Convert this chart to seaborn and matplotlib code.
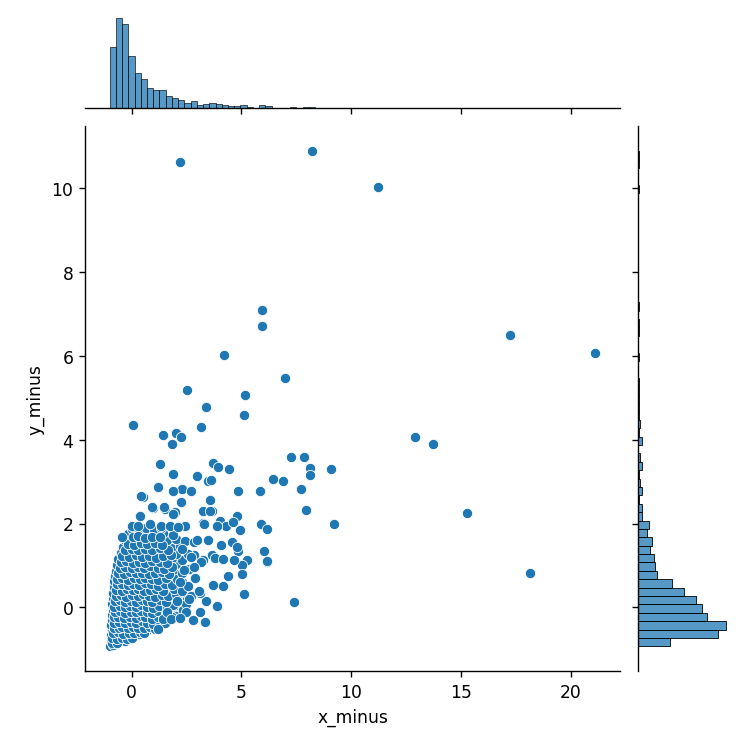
#joint plot
#x_minus vs y_minus with marginal histograms
import numpy as np
import pandas as pd
import seaborn as sns
import matplotlib
matplotlib.use("Agg")
import matplotlib.pyplot as plt

# scatter points (dense core row by row, then the spread-out points)
x_minus = [
    -1.00, -0.86,
    -0.95, -0.74, -0.55, -0.30,
    -0.96, -0.80, -0.60, -0.40, -0.15, 0.10, 0.35,
    -0.90, -0.70, -0.50, -0.30, -0.05, 0.20, 0.45, 0.70,
    -0.92, -0.75, -0.55, -0.35, -0.10, 0.15, 0.40, 0.65, 0.95, 1.20,
    -0.88, -0.65, -0.45, -0.20, 0.05, 0.30, 0.55, 0.80, 1.05, 1.35, 1.70,
    -0.90, -0.70, -0.50, -0.25, 0.00, 0.25, 0.50, 0.75, 1.00, 1.30, 1.60, 1.90,
    -0.85, -0.60, -0.40, -0.15, 0.10, 0.35, 0.60, 0.85, 1.15, 1.45, 1.75, 2.10,
    -0.88, -0.70, -0.45, -0.20, 0.05, 0.30, 0.55, 0.80, 1.10, 1.40, 1.70, 2.00, 2.30,
    -0.85, -0.60, -0.35, -0.10, 0.15, 0.40, 0.70, 0.95, 1.25, 1.55, 1.85, 2.20,
    -0.85, -0.65, -0.40, -0.15, 0.10, 0.40, 0.65, 0.90, 1.20, 1.50, 1.80, 2.10, 2.45,
    -0.80, -0.55, -0.30, -0.05, 0.20, 0.50, 0.75, 1.05, 1.35, 1.65, 2.00,
    -0.80, -0.60, -0.35, -0.10, 0.15, 0.45, 0.70, 1.00, 1.30, 1.60, 1.95, 2.30,
    -0.75, -0.50, -0.25, 0.00, 0.30, 0.55, 0.85, 1.15, 1.45, 1.80, 2.15,
    -0.72, -0.45, -0.20, 0.10, 0.35, 0.65, 0.95, 1.25, 1.55, 1.90, 2.60,
    -0.65, -0.40, -0.15, 0.15, 0.45, 0.75, 1.05, 1.40, 1.70, 2.00,
    -0.60, -0.35, -0.05, 0.25, 0.55, 0.85, 1.20, 1.50, 1.85, 2.30,
    -0.50, -0.25, 0.05, 0.35, 0.65, 0.95, 1.30, 1.60, 2.00,
    -0.40, -0.10, 0.20, 0.50, 0.80, 1.10, 1.45, 1.80, 2.20,
    -0.30, 0.00, 0.30, 0.60, 0.95, 1.25, 1.60, 2.00,
    -0.15, 0.15, 0.45, 0.80, 1.10, 1.45, 1.90,
    0.00, 0.35, 0.65, 1.00, 1.35,
    # core, in-between rows
    -0.90, -0.65,
    -0.88, -0.68, -0.45, -0.22, 0.02,
    -0.83, -0.62, -0.38, -0.12, 0.13, 0.38, 0.58,
    -0.82, -0.58, -0.42, -0.18, 0.08, 0.30, 0.55, 0.83, 1.05,
    -0.80, -0.58, -0.28, -0.02, 0.22, 0.48, 0.72, 0.98, 1.28, 1.50,
    -0.78, -0.60, -0.35, -0.08, 0.18, 0.42, 0.62, 0.92, 1.18, 1.45, 2.00,
    -0.75, -0.55, -0.30, -0.02, 0.18, 0.45, 0.70, 0.95, 1.22, 1.55, 2.35,
    -0.78, -0.52, -0.28, -0.05, 0.22, 0.45, 0.68, 0.98, 1.25, 1.60, 1.90,
    -0.76, -0.55, -0.32, -0.02, 0.20, 0.48, 0.70, 0.92, 1.30, 1.58, 2.05,
    -0.72, -0.48, -0.25, 0.02, 0.28, 0.52, 0.80, 1.08, 1.38, 1.68, 2.00,
    -0.70, -0.45, -0.22, 0.05, 0.30, 0.58, 0.82, 1.12, 1.42, 1.95, 2.28,
    -0.68, -0.45, -0.18, 0.08, 0.35, 0.60, 0.90, 1.20, 1.50, 1.82,
    -0.65, -0.42, -0.15, 0.12, 0.40, 0.62, 0.92, 1.22, 1.58, 2.05,
    -0.60, -0.35, -0.08, 0.22, 0.48, 0.78, 1.08, 1.38, 1.70, 2.30,
    -0.55, -0.30, 0.00, 0.28, 0.58, 0.85, 1.18, 1.48, 1.82,
    -0.50, -0.25, 0.05, 0.32, 0.62, 0.95, 1.28, 1.62,
    -0.42, -0.12, 0.18, 0.48, 0.78, 1.12, 1.45, 1.78,
    -0.30, 0.00, 0.30, 0.62, 0.95, 1.28, 1.65,
    -0.18, 0.12, 0.42, 0.72, 1.05, 1.40,
    0.05, 0.30, 0.62, 0.95, 1.30,
    # spread-out points
    17.23, 21.13, 12.93, 13.71, 15.30,
    2.19, 8.22, 11.22,
    5.93, 5.93, 4.22, 6.98, 2.53, 5.17, 3.38, 5.13, 0.08, 3.18,
    1.45, 2.02, 2.26, 1.84,
    7.27, 7.87, 8.11, 8.11, 9.08,
    1.28, 3.70, 3.95, 4.45, 1.90, 2.99, 3.47, 3.62, 6.46, 6.88, 7.72,
    1.18, 2.29, 1.90, 2.71, 4.86, 5.85, 0.50, 2.23, 3.59, 7.96, 3.26, 3.68, 4.80, 0.96, 1.51, 1.96,
    9.20, 5.91, 6.15, 3.26, 4.04, 4.30, 4.94, 4.60, 2.41,
    6.03, 6.19, 4.83, 5.25, 5.05, 5.01, 4.40, 4.67, 4.07, 4.56, 3.47, 3.68, 3.80, 3.26, 2.86,
    3.71, 4.15, 5.13, 7.42, 3.39, 3.89, 2.46, 2.71, 3.11,
    18.15, 3.35, 2.81, 2.58, 6.16, 1.42, 1.85, 1.61,
    -0.45, 0.38, 0.94, 1.48, 0.03, 0.30, 0.83, 1.33, 1.73, 1.89, 3.24, 3.59, 3.29, 3.89,
    3.05, 2.08, 1.81, 1.21,
    4.15, 4.80, 3.17, 2.86, 2.56, 2.41, 2.86, 2.11,
    0.42,
    2.20, 2.40, 2.70, 2.30, 2.90, 2.60, 3.00, 2.50, 3.10, 2.20,
]
y_minus = [
    -0.93, -0.90,
    -0.80, -0.84, -0.78, -0.79,
    -0.66, -0.70, -0.67, -0.71, -0.68, -0.66, -0.64,
    -0.55, -0.53, -0.57, -0.54, -0.56, -0.52, -0.55, -0.53,
    -0.42, -0.40, -0.44, -0.41, -0.43, -0.40, -0.42, -0.45, -0.41, -0.46,
    -0.30, -0.28, -0.32, -0.29, -0.31, -0.27, -0.30, -0.33, -0.28, -0.31, -0.27,
    -0.18, -0.16, -0.20, -0.17, -0.19, -0.15, -0.18, -0.21, -0.16, -0.18, -0.14, -0.12,
    -0.05, -0.03, -0.07, -0.04, -0.06, -0.02, -0.05, -0.08, -0.03, -0.05, -0.01, -0.06,
    0.08, 0.10, 0.06, 0.09, 0.07, 0.11, 0.08, 0.05, 0.10, 0.07, 0.12, 0.06, 0.09,
    0.22, 0.20, 0.24, 0.21, 0.23, 0.19, 0.22, 0.25, 0.20, 0.23, 0.18, 0.24,
    0.35, 0.37, 0.33, 0.36, 0.34, 0.38, 0.35, 0.32, 0.37, 0.34, 0.39, 0.33, 0.36,
    0.48, 0.46, 0.50, 0.47, 0.49, 0.45, 0.48, 0.51, 0.46, 0.49, 0.44,
    0.62, 0.64, 0.60, 0.63, 0.61, 0.65, 0.62, 0.59, 0.64, 0.61, 0.66, 0.60,
    0.75, 0.73, 0.77, 0.74, 0.76, 0.72, 0.75, 0.78, 0.73, 0.76, 0.71,
    0.88, 0.90, 0.86, 0.89, 0.87, 0.91, 0.88, 0.85, 0.90, 0.87, 0.92,
    1.02, 1.00, 1.04, 1.01, 1.03, 0.99, 1.02, 1.05, 1.00, 1.03,
    1.15, 1.17, 1.13, 1.16, 1.14, 1.18, 1.15, 1.12, 1.17, 1.14,
    1.30, 1.28, 1.32, 1.29, 1.31, 1.27, 1.30, 1.33, 1.28,
    1.45, 1.47, 1.43, 1.46, 1.44, 1.48, 1.45, 1.42, 1.47,
    1.60, 1.58, 1.62, 1.59, 1.61, 1.57, 1.60, 1.63,
    1.75, 1.77, 1.73, 1.76, 1.74, 1.78, 1.72,
    1.88, 1.86, 1.90, 1.87, 1.89,
    # core, in-between rows
    -0.86, -0.84,
    -0.74, -0.76, -0.73, -0.75, -0.72,
    -0.61, -0.59, -0.63, -0.60, -0.62, -0.58, -0.60,
    -0.48, -0.50, -0.47, -0.49, -0.46, -0.50, -0.48, -0.47, -0.51,
    -0.36, -0.34, -0.38, -0.35, -0.37, -0.33, -0.36, -0.39, -0.34, -0.37,
    -0.24, -0.22, -0.26, -0.23, -0.25, -0.21, -0.24, -0.27, -0.22, -0.25, -0.20,
    -0.11, -0.09, -0.13, -0.10, -0.12, -0.08, -0.11, -0.14, -0.09, -0.12, -0.07,
    0.02, 0.04, 0.00, 0.03, 0.01, 0.05, 0.02, -0.01, 0.04, 0.01, 0.06,
    0.15, 0.17, 0.13, 0.16, 0.14, 0.18, 0.15, 0.12, 0.17, 0.14, 0.19,
    0.28, 0.30, 0.26, 0.29, 0.27, 0.31, 0.28, 0.25, 0.30, 0.27, 0.32,
    0.42, 0.40, 0.44, 0.41, 0.43, 0.39, 0.42, 0.45, 0.40, 0.43, 0.38,
    0.55, 0.57, 0.53, 0.56, 0.54, 0.58, 0.55, 0.52, 0.57, 0.54,
    0.68, 0.70, 0.66, 0.69, 0.67, 0.71, 0.68, 0.65, 0.70, 0.67,
    0.82, 0.80, 0.84, 0.81, 0.83, 0.79, 0.82, 0.85, 0.80, 0.83,
    0.95, 0.97, 0.93, 0.96, 0.94, 0.98, 0.95, 0.92, 0.97,
    1.08, 1.10, 1.06, 1.09, 1.07, 1.11, 1.08, 1.05,
    1.22, 1.20, 1.24, 1.21, 1.23, 1.19, 1.22, 1.25,
    1.38, 1.40, 1.36, 1.39, 1.37, 1.41, 1.38,
    1.52, 1.50, 1.54, 1.51, 1.53, 1.49,
    1.68, 1.70, 1.66, 1.69, 1.67,
    # spread-out points
    6.50, 6.06, 4.06, 3.90, 2.24,
    10.62, 10.88, 10.02,
    7.10, 6.71, 6.02, 5.46, 5.19, 5.07, 4.77, 4.59, 4.36, 4.31,
    4.11, 4.15, 4.06, 3.90,
    3.58, 3.58, 3.32, 3.16, 3.30,
    3.41, 3.44, 3.34, 3.30, 3.17, 3.14, 3.01, 3.04, 3.07, 3.01, 2.83,
    2.87, 2.83, 2.77, 2.77, 2.77, 2.77, 2.64, 2.51, 2.56, 2.33, 2.31, 2.31, 2.19, 2.37, 2.35, 2.27,
    1.99, 1.98, 1.87, 2.01, 2.07, 1.93, 1.85, 2.03, 1.95,
    1.34, 1.08, 1.34, 1.12, 1.02, 0.80, 0.76, 1.12, 1.50, 1.55, 1.61, 1.24, 1.18, 1.12, 1.24,
    0.54, 0.52, 0.31, 0.14, 0.16, 0.04, 0.07, 0.28, 0.34,
    0.81, -0.35, -0.31, 0.51, 1.10, -0.28, -0.22, -0.10,
    1.69, 2.19, 2.39, 2.39, 1.95, 1.93, 1.99, 1.95, 1.95, 2.23, 2.29, 2.29, 1.99, 1.95,
    0.38, 0.16, -0.27, -0.51,
    1.16, 1.43, 1.08, 0.96, 1.28, 1.59, 1.55, 1.91,
    2.65,
    0.60, 0.90, 1.20, 1.40, 0.70, 0.20, 1.60, -0.10, -0.10, -0.25,
]

# marginal bar heights (one value per bin, low to high)
x_counts = [
    60, 89, 83, 51, 34, 29, 20, 18, 18, 12,
    10, 8, 5, 7, 3, 4, 5, 4, 3, 1.3,
    1.3, 3, 0.3, 0, 3, 1.3, 0, 0, 0, 1,
    0, 1, 1, 0, 0, 0, 0, 0, 0, 0,
    0, 0, 0, 0, 0, 0, 0, 0, 0, 0,
    0, 0, 0, 0, 0, 0, 0, 0, 0, 0,
    0, 0, 0, 0, 0, 0, 0, 0, 0, 0,
    0, 0, 0, 0, 0, 0, 0, 0,
]
y_counts = [
    32, 80.7, 88.7, 69.7, 64.7, 58.7, 46, 34.3, 18.7, 17,
    15.7, 12.3, 14.3, 8.7, 10.7, 4.3, 4.3, 1, 4.3, 1.7,
    1, 3.7, 1.5, 0, 3.5, 1.2, 1.5, 0.6, 0.6, 0.6,
    0.6, 0.6, 0, 0, 1, 0, 0, 0.6, 0.6, 0,
    0.6, 0, 0, 0, 0, 0, 0, 0, 0, 0,
    0, 0, 0, 0, 0.6, 0, 0, 0.6, 0.6,
]

df = pd.DataFrame({"x_minus": x_minus, "y_minus": y_minus})

x_edges = np.linspace(df["x_minus"].min(), df["x_minus"].max(), len(x_counts) + 1)
y_edges = np.linspace(df["y_minus"].min(), df["y_minus"].max(), len(y_counts) + 1)
mx = pd.DataFrame({"x": (x_edges[:-1] + x_edges[1:]) / 2, "w": x_counts})
my = pd.DataFrame({"y": (y_edges[:-1] + y_edges[1:]) / 2, "w": y_counts})

g = sns.JointGrid(data=df, x="x_minus", y="y_minus", height=6)
g.plot_joint(sns.scatterplot)
sns.histplot(data=mx, x="x", weights="w", bins=list(x_edges), ax=g.ax_marg_x)
sns.histplot(data=my, y="y", weights="w", bins=list(y_edges), ax=g.ax_marg_y)
g.set_axis_labels("x_minus", "y_minus")

g.figure.set_size_inches(6, 5.925)
g.figure.subplots_adjust(left=0.115, right=0.984, bottom=0.083, top=0.98)
g.figure.savefig("out.png", dpi=123.7)
